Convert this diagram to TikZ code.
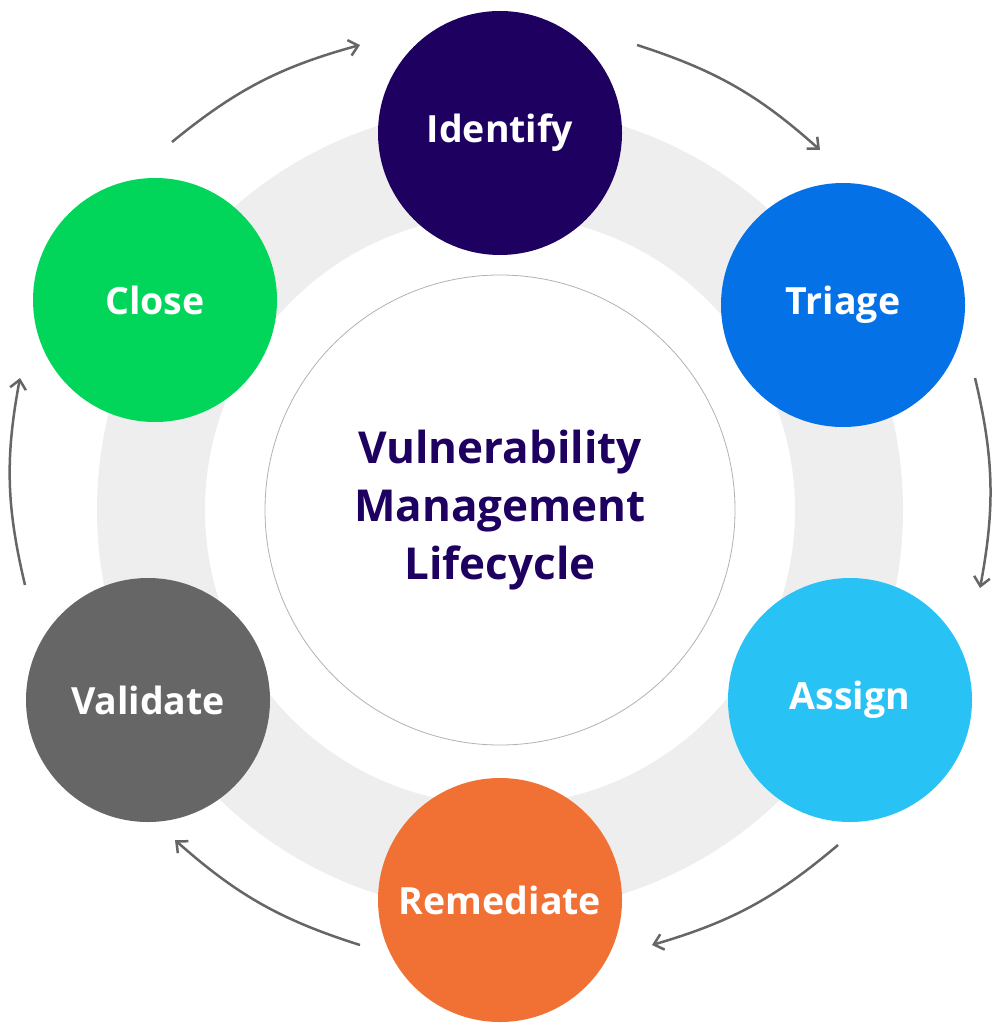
\documentclass[tikz,border=0pt]{standalone}
\usepackage{fontspec}
\setmainfont{Open Sans}
\usetikzlibrary{arrows.meta}
\definecolor{cIdent}{HTML}{1E0060}
\definecolor{cTri}{HTML}{0472E6}
\definecolor{cAss}{HTML}{28C3F4}
\definecolor{cRem}{HTML}{F07133}
\definecolor{cVal}{HTML}{666666}
\definecolor{cClo}{HTML}{02D65A}
\definecolor{ring}{HTML}{EEEEEE}
\definecolor{arr}{HTML}{666666}
\tikzset{
 stage/.style={circle, minimum size=244pt, inner sep=0pt, text=white, font=\fontsize{37.5}{44}\selectfont\bfseries},
 cyc/.style={draw=arr, line width=2.5pt, -{Straight Barb[length=9pt,width=16pt]}}
}
\begin{document}
\begin{tikzpicture}[x=1pt,y=-1pt]
\useasboundingbox (0,0) rectangle (999,1024);
\fill[ring,even odd rule] (500,510) circle (403) (500,510) circle (295);
\node[circle, minimum size=470pt, draw=gray!60, fill=white, line width=0.8pt, text=cIdent, align=center,
 font=\fontsize{44}{58}\selectfont\bfseries] (c) at (500,510) {Vulnerability\\Management\\Lifecycle};
\node[stage, fill=cIdent] (i) at (500,133) {Identify};
\node[stage, fill=cTri] (t) at (843,305) {Triage};
\node[stage, fill=cAss] (a) at (850,700) {Assign};
\node[stage, fill=cRem] (r) at (500,900) {Remediate};
\node[stage, fill=cVal] (v) at (148,700) {Validate};
\node[stage, fill=cClo] (cl) at (155,300) {Close};
\coordinate (a1s) at (172,142); \coordinate (a1e) at (360,45);
\coordinate (a2s) at (637,45); \coordinate (a2e) at (820,150);
\coordinate (a3s) at (975,378); \coordinate (a3e) at (980,588);
\coordinate (a4s) at (838,845); \coordinate (a4e) at (652,945);
\coordinate (a5s) at (360,945); \coordinate (a5e) at (175,840);
\coordinate (a6s) at (25,585); \coordinate (a6e) at (20,378);
\draw[cyc] (a1s) to[bend left=12] (a1e);
\draw[cyc] (a2s) to[bend left=12] (a2e);
\draw[cyc] (a3s) to[bend left=12] (a3e);
\draw[cyc] (a4s) to[bend left=12] (a4e);
\draw[cyc] (a5s) to[bend left=12] (a5e);
\draw[cyc] (a6s) to[bend left=12] (a6e);
\end{tikzpicture}
\end{document}
